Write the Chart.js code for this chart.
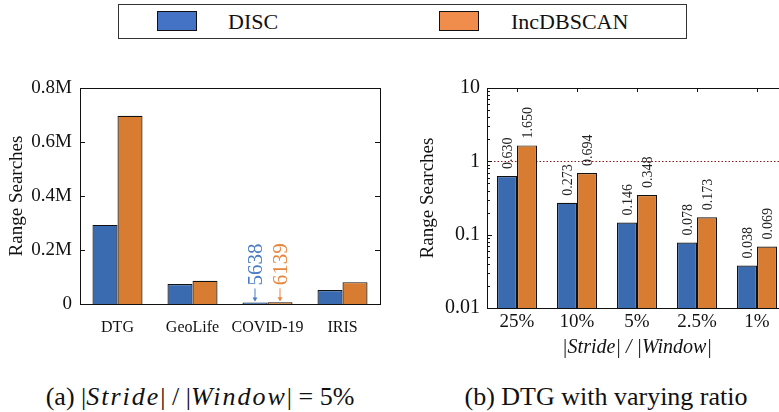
<!DOCTYPE html>
<html>
<head>
<meta charset="utf-8">
<script src="https://cdn.jsdelivr.net/npm/chart.js@4.4.1/dist/chart.umd.min.js"></script>
<style>
  body { margin:0; width:779px; height:412px; overflow:hidden; background:#fff; position:relative; font-family:"Liberation Serif", serif; color:#111; }
  canvas { position:absolute; }
  #legend { position:absolute; left:118px; top:4px; width:567px; height:33px; border:1px solid #333; }
  .sw { position:absolute; top:6px; width:40px; height:20px; border:1.5px solid #111; box-sizing:border-box; }
  .lt { position:absolute; top:4px; font-size:22px; line-height:26px; }
  .cap { position:absolute; top:383px; font-size:26px; line-height:28px; white-space:nowrap; transform:translateX(-50%); }
  .cap i { letter-spacing:2px; }
</style>
</head>
<body>
<div id="legend"></div>
<canvas id="chartA" width="390" height="290" style="left:0;top:60px"></canvas>
<canvas id="chartB" width="400" height="300" style="left:390px;top:60px"></canvas>
<div class="cap" style="left:200px">(a) |<i>Stride</i>| / |<i>Window</i>| = 5%</div>
<div class="cap" style="left:606px">(b) DTG with varying ratio</div>

<script>
// (a) range searches per dataset, stride/window = 5%
const catsA = ['DTG', 'GeoLife', 'COVID-19', 'IRIS']
const discA = [293000, 74000, 5638, 52000]
const incA = [697000, 86000, 6139, 81000]
const ticksA = [0, 200000, 400000, 600000, 800000]
const noteA = 2   // COVID-19 bars are too small, values written above them

// (b) DTG, ratio IncDBSCAN-normalised, log scale
const catsB = ['25%', '10%', '5%', '2.5%', '1%']
const discB = [0.630, 0.273, 0.146, 0.078, 0.038]
const incB = [1.650, 0.694, 0.348, 0.173, 0.069]
const ticksB = [0.01, 0.1, 1, 10]
const refLine = 1

const seriesNames = ['DISC', 'IncDBSCAN']
const barColors = ['#3a6bb0', '#d87c32']
const swatchColors = ['#4472c4', '#f08c4c']
const textColors = ['#4a7cc4', '#e8853c']
const FONT = 'Liberation Serif'

// legend (html)
let leg = document.getElementById('legend')
let legX = [[38, 109], [320, 392]]
seriesNames.forEach((name, i) => {
  leg.innerHTML += `<div class="sw" style="left:${legX[i][0]}px;background:${swatchColors[i]}"></div>
                    <div class="lt" style="left:${legX[i][1]}px">${name}</div>`
})

function fmtM(v) {
  return v == 0 ? '0' : (v / 1000000).toFixed(1) + 'M'
}

// box round the plot + small inward ticks
const boxPlugin = {
  id: 'box',
  afterDraw(chart) {
    let ctx = chart.ctx
    let a = chart.chartArea
    let y = chart.scales.y
    let x = chart.scales.x
    ctx.save()
    ctx.strokeStyle = '#111'
    ctx.lineWidth = 1
    ctx.strokeRect(Math.round(a.left) + 0.5, Math.round(a.top) + 0.5, Math.round(a.right - a.left), Math.round(a.bottom - a.top))
    ctx.beginPath()
    y.ticks.forEach(t => {
      let py = Math.round(y.getPixelForValue(t.value)) + 0.5
      ctx.moveTo(a.left, py); ctx.lineTo(a.left + 5, py)
      ctx.moveTo(a.right, py); ctx.lineTo(a.right - 5, py)
    })
    if (y.type == 'logarithmic') {
      for (let p = -2; p < 1; p++) {
        for (let k = 2; k < 10; k++) {
          let py = Math.round(y.getPixelForValue(k * Math.pow(10, p))) + 0.5
          ctx.moveTo(a.left, py); ctx.lineTo(a.left + 3, py)
        }
      }
      x.ticks.forEach((t, i) => {
        let px = Math.round(x.getPixelForValue(i)) + 0.5
        ctx.moveTo(px, a.top); ctx.lineTo(px, a.top + 4)
      })
    }
    ctx.stroke()
    ctx.restore()
  }
}

// (a) written values over the COVID-19 bars
const noteAPlugin = {
  id: 'noteA',
  afterDatasetsDraw(chart) {
    let ctx = chart.ctx
    ctx.save()
    chart.data.datasets.forEach((ds, i) => {
      let bar = chart.getDatasetMeta(i).data[noteA]
      let top = bar.y
      ctx.strokeStyle = textColors[i]
      ctx.fillStyle = textColors[i]
      ctx.lineWidth = 1
      ctx.beginPath()
      ctx.moveTo(bar.x, top - 14); ctx.lineTo(bar.x, top - 2)
      ctx.stroke()
      ctx.beginPath()
      ctx.moveTo(bar.x - 2.5, top - 5); ctx.lineTo(bar.x + 2.5, top - 5); ctx.lineTo(bar.x, top - 1)
      ctx.fill()
      ctx.translate(bar.x, top - 17)
      ctx.rotate(-Math.PI / 2)
      ctx.font = `21px "${FONT}"`
      ctx.textAlign = 'left'
      ctx.textBaseline = 'middle'
      ctx.fillText(String(ds.data[noteA]), 0, 1)
      ctx.setTransform(1, 0, 0, 1, 0, 0)
    })
    ctx.restore()
  }
}

// (b) dotted line at 1 and rotated value labels
const labelsBPlugin = {
  id: 'labelsB',
  beforeDatasetsDraw(chart) {
    let ctx = chart.ctx
    let a = chart.chartArea
    let py = Math.round(chart.scales.y.getPixelForValue(refLine)) + 0.5
    ctx.save()
    ctx.strokeStyle = '#8b1a1a'
    ctx.lineWidth = 1
    ctx.setLineDash([1.5, 2])
    ctx.beginPath()
    ctx.moveTo(a.left, py); ctx.lineTo(a.right, py)
    ctx.stroke()
    ctx.restore()
  },
  afterDatasetsDraw(chart) {
    let ctx = chart.ctx
    ctx.save()
    ctx.font = `14px "${FONT}"`
    ctx.fillStyle = '#222'
    ctx.textAlign = 'left'
    ctx.textBaseline = 'middle'
    chart.data.datasets.forEach((ds, i) => {
      chart.getDatasetMeta(i).data.forEach((bar, j) => {
        ctx.setTransform(1, 0, 0, 1, bar.x, bar.y - 7)
        ctx.rotate(-Math.PI / 2)
        ctx.fillText(ds.data[j].toFixed(3), 0, 1)
      })
    })
    ctx.setTransform(1, 0, 0, 1, 0, 0)
    ctx.restore()
  }
}

function makeSets(a, b) {
  return [a, b].map((d, i) => ({
    label: seriesNames[i],
    data: d,
    backgroundColor: barColors[i],
    borderColor: '#111',
    borderWidth: 1.2,
    categoryPercentage: 0.667,
    barPercentage: 1
  }))
}

Chart.defaults.font.family = FONT
Chart.defaults.color = '#111'

new Chart('chartA', {
  type: 'bar',
  data: { labels: catsA, datasets: makeSets(discA, incA) },
  plugins: [boxPlugin, noteAPlugin],
  options: {
    responsive: false,
    animation: false,
    layout: { padding: { top: 28, right: 10, left: 0, bottom: 0 } },
    plugins: { legend: { display: false }, tooltip: { enabled: false } },
    scales: {
      x: {
        grid: { display: false, drawTicks: false },
        border: { display: false },
        ticks: { font: { size: 16 }, padding: 14, maxRotation: 0, autoSkip: false },
        afterFit(s) { s.height = 46 }
      },
      y: {
        min: ticksA[0],
        max: ticksA[ticksA.length - 1],
        grid: { display: false, drawTicks: false },
        border: { display: false },
        afterBuildTicks(s) { s.ticks = ticksA.map(v => ({ value: v })) },
        ticks: { font: { size: 19 }, padding: 8, callback: v => fmtM(v) },
        title: { display: true, text: 'Range Searches', font: { size: 19 }, padding: { top: 6, bottom: 0 } },
        afterFit(s) { s.width = 80 }
      }
    }
  }
})

new Chart('chartB', {
  type: 'bar',
  data: { labels: catsB, datasets: makeSets(discB, incB) },
  plugins: [boxPlugin, labelsBPlugin],
  options: {
    responsive: false,
    animation: false,
    layout: { padding: { top: 28, right: 3, left: 0, bottom: 0 } },
    plugins: { legend: { display: false }, tooltip: { enabled: false } },
    scales: {
      x: {
        grid: { display: false, drawTicks: false },
        border: { display: false },
        ticks: { font: { size: 19 }, padding: 3, maxRotation: 0, autoSkip: false },
        title: { display: true, text: '|Stride| / |Window|', font: { size: 20, style: 'italic' }, padding: { top: 0, bottom: 0 } },
        afterFit(s) { s.height = 52 }
      },
      y: {
        type: 'logarithmic',
        min: ticksB[0],
        max: ticksB[ticksB.length - 1],
        grid: { display: false, drawTicks: false },
        border: { display: false },
        afterBuildTicks(s) { s.ticks = ticksB.map(v => ({ value: v })) },
        ticks: { font: { size: 20 }, padding: 7, autoSkip: false, callback: v => String(v) },
        title: { display: true, text: 'Range Searches', font: { size: 19 }, padding: { top: 27, bottom: 0 } },
        afterFit(s) { s.width = 97 }
      }
    }
  }
})
</script>
</body>
</html>
